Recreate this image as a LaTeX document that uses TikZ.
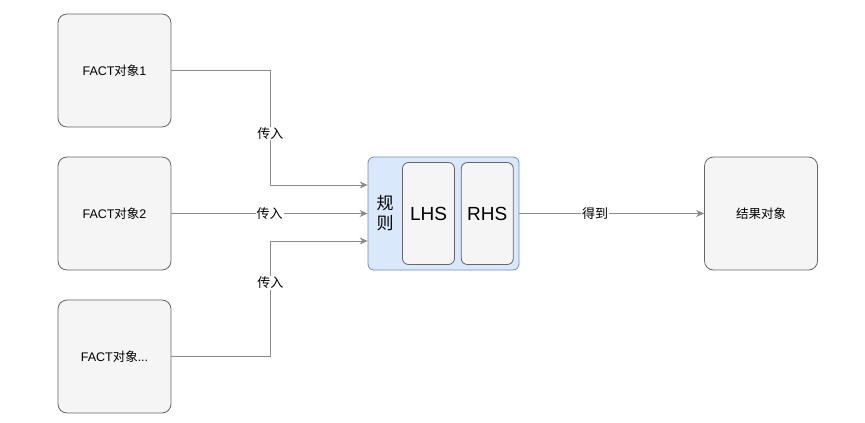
\documentclass[tikz,border=0pt]{standalone}
\usepackage{fontspec}
\setmainfont{Liberation Sans}
\newfontfamily\cjk{Noto Sans CJK SC}
\usepackage{tikz}
\usetikzlibrary{positioning}
\usetikzlibrary{arrows.meta}
\definecolor{boxfill}{HTML}{F5F5F5}
\definecolor{boxline}{HTML}{666666}
\definecolor{rulefill}{HTML}{DAE8FC}
\definecolor{ruleline}{HTML}{6C8EBF}
\definecolor{linkline}{HTML}{8A8A8A}

\begin{document}
\begin{tikzpicture}[x=1pt,y=-1pt,
factnode/.style={rectangle, rounded corners=9pt, draw=boxline, fill=boxfill, thick, minimum width=113pt, minimum height=113pt, inner sep=0pt, font=\fontsize{12.5}{14}\selectfont},
rulenode/.style={rectangle, rounded corners=6pt, draw=ruleline, fill=rulefill, thick, minimum width=151pt, minimum height=113pt, inner sep=0pt},
partnode/.style={rectangle, rounded corners=6pt, draw=boxline, fill=boxfill, thick, minimum width=52pt, minimum height=102pt, inner sep=0pt, font=\fontsize{19}{21}\selectfont},
link/.style={draw=linkline, thick, -{Stealth[length=8pt,width=7pt]}},
lbl/.style={fill=white, inner sep=1pt, font=\cjk\fontsize{13}{15}\selectfont},
]
\useasboundingbox (0,0) rectangle (865,423);
%Nodes
\node[factnode]      (fact1)   at (114.5,70.5)    {FACT{\cjk 对象}1};
\node[factnode]      (fact2)   at (114.5,213.5)   {FACT{\cjk 对象}2};
\node[factnode]      (factn)   at (114.5,356.5)   {FACT{\cjk 对象}...};
\node[rulenode]      (rule)    at (443.5,213.5)   {};
\node[partnode]      (lhs)     at (428.5,213.5)   {LHS};
\node[partnode]      (rhs)     [right=6pt of lhs] {RHS};
\node[font=\cjk\fontsize{17}{20}\selectfont, align=center, inner sep=0pt] (rulename) at (385,213.5) {规\\则};
\node[factnode]      (result)  at (761,213.5)     {\cjk 结果对象};

%Lines
\draw[link] (fact1.east) -- ++(99,0) |- node[lbl,pos=0.275] {传入} ([yshift=28.5pt]rule.west);
\draw[link] (fact2.east) -- node[lbl,pos=0.5] {传入} (rule.west);
\draw[link] (factn.east) -- ++(99,0) |- node[lbl,pos=0.32] {传入} ([yshift=-27.5pt]rule.west);
\draw[link] (rule.east) -- node[lbl,pos=0.41] {得到} (result.west);
\end{tikzpicture}
\end{document}
